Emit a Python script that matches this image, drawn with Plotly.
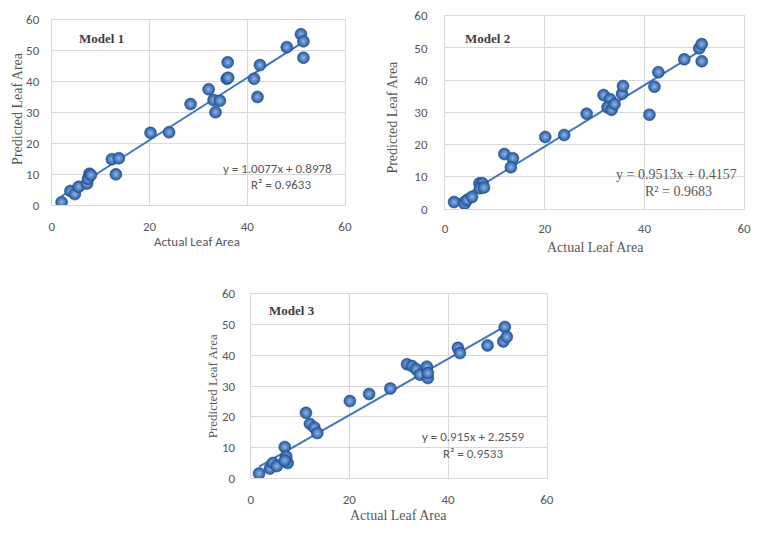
import plotly.graph_objects as go

# ---- data ----
m1_actual = [2.0, 3.8, 4.7, 5.5, 7.2, 7.4, 7.7, 8.0, 12.3, 13.7, 13.1, 20.2, 24.0, 28.4, 32.1,
             33.1, 33.5, 34.4, 36.0, 35.8, 36.1, 41.4, 42.1, 42.6, 48.1, 51.0, 51.5, 51.5]
m1_pred = [1.0, 4.6, 3.6, 6.0, 7.0, 8.6, 10.2, 9.8, 14.9, 15.2, 10.0, 23.4, 23.6, 32.7, 37.5,
           34.0, 30.1, 33.8, 46.2, 40.9, 41.2, 40.9, 35.0, 45.3, 51.1, 55.3, 53.0, 47.7]

m2_actual = [1.8, 3.9, 4.4, 5.4, 6.9, 7.5, 7.0, 7.8, 11.9, 13.6, 13.2, 20.1, 23.9, 28.4, 31.8,
             33.1, 32.6, 33.4, 34.0, 35.5, 35.7, 41.0, 42.0, 42.8, 48.0, 51.0, 51.5, 51.5]
m2_pred = [2.2, 1.7, 2.8, 3.8, 8.0, 8.0, 6.5, 6.7, 17.1, 15.8, 13.0, 22.4, 23.0, 29.6, 35.4,
           34.1, 31.6, 30.8, 32.6, 35.8, 38.2, 29.3, 38.0, 42.5, 46.5, 49.9, 51.2, 45.9]

m3_actual = [1.7, 3.9, 4.5, 5.3, 6.9, 7.2, 7.5, 6.9, 11.2, 12.0, 12.9, 13.5, 20.1, 24.0, 28.3,
             31.7, 32.7, 33.5, 34.3, 35.7, 35.9, 35.9, 42.0, 42.4, 48.0, 51.2, 51.5, 51.9]
m3_pred = [1.6, 3.2, 5.0, 4.0, 10.2, 7.1, 5.0, 5.8, 21.3, 17.7, 16.5, 14.7, 25.1, 27.4, 29.2,
           37.1, 36.5, 35.5, 33.7, 36.3, 32.6, 34.2, 42.4, 40.7, 43.2, 44.5, 49.2, 46.0]

slopes = [1.0077, 0.9513, 0.915]
intercepts = [0.8978, 0.4157, 2.2559]
eq_labels = ["y = 1.0077x + 0.8978", "y = 0.9513x + 0.4157", "y = 0.915x + 2.2559"]
r2_labels = ["R² = 0.9633", "R² = 0.9683", "R² = 0.9533"]
model_names = ["Model 1", "Model 2", "Model 3"]
x_title = "Actual Leaf Area"
y_title = "Predicted Leaf Area"
tick_vals = [0, 10, 20, 30, 40, 50, 60]
x_tick_vals = [0, 20, 40, 60]

# ---- layout ----
W, H = 759, 533
doms = [
    dict(x=[49.5 / W, 346.5 / W], y=[1 - 204 / H, 1 - 13 / H]),
    dict(x=[448 / W, 751 / W], y=[1 - 208 / H, 1 - 9 / H]),
    dict(x=[251 / W, 551 / W], y=[1 - 485 / H, 1 - 295 / H]),
]
serif = "Liberation Serif, Times New Roman, serif"
sans = "Carlito, Liberation Sans, Arial, sans-serif"
eq_fonts = [sans, serif, sans]
eq_sizes = [13, 14, 13]
xt_fonts = [sans, serif, serif]
xt_sizes = [13, 14, 14]
yt_sizes = [14, 14, 13]
x_std = [9, 7, 9]
y_std = [9, 14, 12]
# axis title centres in pixels (x, y)
xt_pos = [(197, 241), (600, 247), (401, 523)]
yt_pos = [(14, 104), (395, 113), (212, 390)]

marker_center = "#8db6ea"
marker_edge = "#24569b"
line_color = "#3f76bf"
text_color = "#595959"

datasets = [(m1_actual, m1_pred), (m2_actual, m2_pred), (m3_actual, m3_pred)]
eq_pos = [((46.2, 11.9), (47.0, 6.6)), ((46.5, 10.6), (46.9, 5.4)), ((45.0, 13.6), (45.0, 8.2))]
model_pos = [(5.2, 54.0), (3.6, 53.0), (3.4, 54.6)]

fig = go.Figure()
annotations = []
for i, (xs, ys) in enumerate(datasets):
    sfx = "" if i == 0 else str(i + 1)
    xa, ya = "x" + sfx, "y" + sfx
    xmin, xmax = min(xs), max(xs)
    fig.add_trace(go.Scatter(
        x=[xmin, xmax],
        y=[slopes[i] * xmin + intercepts[i], slopes[i] * xmax + intercepts[i]],
        mode="lines", line=dict(color=line_color, width=2),
        xaxis=xa, yaxis=ya, showlegend=False, hoverinfo="skip"))
    fig.add_trace(go.Scatter(
        x=xs, y=ys, mode="markers",
        marker=dict(size=12, color=marker_edge,
                    gradient=dict(type="radial", color=marker_center),
                    line=dict(width=0.5, color="#1b4a88")),
        xaxis=xa, yaxis=ya, showlegend=False))
    (ex1, ey1), (ex2, ey2) = eq_pos[i]
    annotations.append(dict(x=ex1, y=ey1, xref=xa, yref=ya, text=eq_labels[i], showarrow=False,
                            font=dict(family=eq_fonts[i], size=eq_sizes[i], color=text_color)))
    annotations.append(dict(x=ex2, y=ey2, xref=xa, yref=ya, text=r2_labels[i], showarrow=False,
                            font=dict(family=eq_fonts[i], size=eq_sizes[i], color=text_color)))
    mx, my = model_pos[i]
    annotations.append(dict(x=mx, y=my, xref=xa, yref=ya, text="<b>" + model_names[i] + "</b>",
                            showarrow=False, xanchor="left",
                            font=dict(family=serif, size=13, color="#404040")))
    # axis titles
    px, py = xt_pos[i]
    annotations.append(dict(x=px / W, y=1 - py / H, xref="paper", yref="paper", text=x_title,
                            showarrow=False, xanchor="center", yanchor="middle",
                            font=dict(family=xt_fonts[i], size=xt_sizes[i], color=text_color)))
    px, py = yt_pos[i]
    annotations.append(dict(x=px / W, y=1 - py / H, xref="paper", yref="paper", text=y_title,
                            showarrow=False, xanchor="center", yanchor="middle", textangle=-90,
                            font=dict(family=serif, size=yt_sizes[i], color=text_color)))

    axis_common = dict(showgrid=True, gridcolor="#d9d9d9", gridwidth=1, zeroline=False,
                       showline=True, linecolor="#d9d9d9", linewidth=1, mirror=True,
                       ticks="", tickfont=dict(family=sans, size=13, color=text_color),
                       fixedrange=True)
    fig.update_layout(**{
        "xaxis" + sfx: dict(axis_common, domain=doms[i]["x"], range=[0, 60],
                            tickvals=x_tick_vals, anchor=ya, ticklabelstandoff=x_std[i]),
        "yaxis" + sfx: dict(axis_common, domain=doms[i]["y"], range=[0, 60],
                            tickvals=tick_vals, anchor=xa, ticklabelstandoff=y_std[i]),
    })

fig.update_layout(width=W, height=H, margin=dict(l=0, r=0, t=0, b=0),
                  paper_bgcolor="white", plot_bgcolor="white",
                  annotations=annotations, showlegend=False)
fig.write_html("out.html", config={"displayModeBar": False},
               post_script="document.body.style.margin='0';document.body.style.padding='0';")
